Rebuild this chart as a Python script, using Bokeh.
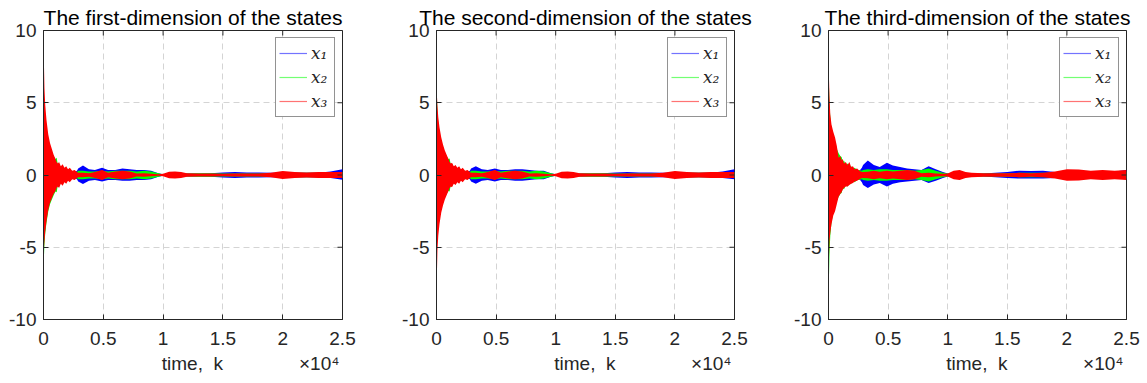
from bokeh.plotting import figure
from bokeh.layouts import row
from bokeh.models import (FixedTicker, LinearAxis, Legend, LegendItem, Range1d)
from bokeh.embed import file_html
from bokeh.resources import INLINE

titles = ["The first-dimension of the states",
          "The second-dimension of the states",
          "The third-dimension of the states"]
series_names = ["x\u2081", "x\u2082", "x\u2083"]
series_colors = ["#0000ff", "#00ff00", "#ff0000"]
x_ticks = [0, 5000, 10000, 15000, 20000, 25000]
x_tick_labels = ["0", "0.5", "1", "1.5", "2", "2.5"]
y_ticks = [-10, -5, 0, 5, 10]
y_tick_labels = ["-10", "-5", "0", "5", "10"]
x_label = "time,\u00a0 k"
x_exponent = "\u00d710\u2074"

# time samples at which the envelope of the oscillating states was read
k = [0, 30, 80, 150, 250, 400, 550, 700, 850, 1000, 1100, 1200, 1300, 1450, 1600,
     1750, 1900, 2050, 2200, 2400, 2600, 2800, 2900, 3300, 3800, 4300, 4900, 5400,
     6000, 6600, 7200, 7800, 8400, 9000, 9600, 10000, 10500, 11000, 11500, 12000,
     13000, 14000, 15000, 16000, 17000, 18000, 19000, 20000, 21000, 22000, 23000,
     24000, 25000]

# ---- panel 1: upper / lower envelopes ----
p1_x1_hi = [5.0, 4.8, 4.2, 3.6, 3.0, 2.3, 1.8, 1.5, 1.2, 1.0, 0.9, 0.7, 0.7, 0.5, 0.5,
            0.4, 0.4, 0.3, 0.3, 0.2, 0.2, 0.3, 0.45, 0.65, 0.4, 0.35, 0.5, 0.35, 0.35, 0.45,
            0.4, 0.35, 0.35, 0.3, 0.12, 0.05, 0.1, 0.12, 0.1, 0.1, 0.1, 0.12, 0.18, 0.2, 0.18,
            0.18, 0.15, 0.15, 0.15, 0.15, 0.15, 0.25, 0.4]
p1_x1_lo = [-5.0, -4.8, -4.3, -3.7, -3.0, -2.3, -1.8, -1.5, -1.2, -1.0, -0.9, -0.7, -0.7, -0.5, -0.5,
            -0.4, -0.4, -0.3, -0.3, -0.2, -0.2, -0.3, -0.45, -0.62, -0.4, -0.35, -0.45, -0.35, -0.35, -0.4,
            -0.4, -0.35, -0.35, -0.3, -0.12, -0.05, -0.1, -0.12, -0.1, -0.1, -0.1, -0.12, -0.18, -0.2, -0.18,
            -0.18, -0.15, -0.15, -0.15, -0.15, -0.15, -0.2, -0.33]
p1_x2_hi = [7.4, 5.5, 4.5, 3.8, 3.0, 2.3, 1.9, 1.6, 1.3, 1.1, 1.2, 0.7, 0.8, 0.5, 0.6,
            0.4, 0.5, 0.35, 0.4, 0.25, 0.3, 0.2, 0.3, 0.3, 0.25, 0.25, 0.3, 0.25, 0.3, 0.3,
            0.3, 0.25, 0.3, 0.25, 0.12, 0.05, 0.1, 0.1, 0.08, 0.1, 0.12, 0.12, 0.1, 0.1, 0.1,
            0.1, 0.12, 0.15, 0.15, 0.15, 0.15, 0.15, 0.2]
p1_x2_lo = [-6.3, -5.8, -4.8, -4.0, -3.3, -2.5, -2.0, -1.7, -1.4, -1.15, -1.2, -0.7, -0.8, -0.5, -0.6,
            -0.4, -0.5, -0.35, -0.4, -0.25, -0.3, -0.2, -0.3, -0.3, -0.25, -0.25, -0.3, -0.25, -0.3, -0.3,
            -0.3, -0.25, -0.3, -0.25, -0.12, -0.05, -0.1, -0.1, -0.08, -0.1, -0.12, -0.12, -0.1, -0.1, -0.1,
            -0.1, -0.12, -0.15, -0.15, -0.15, -0.15, -0.15, -0.2]
p1_x3_hi = [10.0, 8.0, 6.0, 4.8, 3.8, 2.8, 2.2, 1.8, 1.4, 1.1, 0.9, 0.8, 0.9, 0.6, 0.75,
            0.5, 0.6, 0.4, 0.5, 0.3, 0.35, 0.2, 0.15, 0.15, 0.12, 0.2, 0.35, 0.15, 0.25, 0.3,
            0.25, 0.1, 0.12, 0.08, 0.05, 0.08, 0.22, 0.25, 0.2, 0.12, 0.1, 0.1, 0.08, 0.1, 0.1,
            0.1, 0.15, 0.28, 0.2, 0.18, 0.2, 0.2, 0.2]
p1_x3_lo = [-5.5, -5.2, -4.6, -3.9, -3.2, -2.4, -1.9, -1.6, -1.3, -1.1, -0.9, -0.8, -0.9, -0.6, -0.75,
            -0.5, -0.6, -0.4, -0.5, -0.3, -0.35, -0.2, -0.15, -0.15, -0.12, -0.2, -0.35, -0.15, -0.25, -0.3,
            -0.25, -0.1, -0.12, -0.08, -0.05, -0.08, -0.22, -0.25, -0.2, -0.12, -0.1, -0.1, -0.08, -0.1, -0.1,
            -0.1, -0.15, -0.28, -0.2, -0.18, -0.2, -0.2, -0.2]

# ---- panel 2 ----
p2_x1_hi = [4.9, 4.6, 4.0, 3.4, 2.8, 2.2, 1.8, 1.5, 1.2, 1.0, 0.9, 0.7, 0.7, 0.5, 0.5,
            0.4, 0.4, 0.3, 0.3, 0.2, 0.2, 0.3, 0.45, 0.6, 0.4, 0.35, 0.45, 0.35, 0.35, 0.4,
            0.4, 0.35, 0.3, 0.3, 0.12, 0.05, 0.1, 0.12, 0.1, 0.1, 0.1, 0.12, 0.18, 0.2, 0.18,
            0.18, 0.15, 0.15, 0.15, 0.15, 0.15, 0.25, 0.4]
p2_x1_lo = [-4.5, -4.3, -3.9, -3.3, -2.8, -2.2, -1.8, -1.5, -1.2, -1.0, -0.9, -0.7, -0.7, -0.5, -0.5,
            -0.4, -0.4, -0.3, -0.3, -0.2, -0.2, -0.3, -0.45, -0.6, -0.4, -0.35, -0.45, -0.35, -0.35, -0.4,
            -0.4, -0.35, -0.3, -0.3, -0.12, -0.05, -0.1, -0.12, -0.1, -0.1, -0.1, -0.12, -0.18, -0.2, -0.18,
            -0.18, -0.15, -0.15, -0.15, -0.15, -0.15, -0.2, -0.3]
p2_x2_hi = [7.2, 5.5, 4.4, 3.6, 2.9, 2.2, 1.8, 1.5, 1.3, 1.1, 1.15, 0.7, 0.8, 0.5, 0.6,
            0.4, 0.5, 0.35, 0.4, 0.25, 0.3, 0.2, 0.3, 0.3, 0.25, 0.25, 0.3, 0.25, 0.3, 0.3,
            0.3, 0.25, 0.3, 0.25, 0.12, 0.05, 0.1, 0.1, 0.08, 0.1, 0.12, 0.12, 0.1, 0.1, 0.1,
            0.1, 0.12, 0.15, 0.15, 0.15, 0.15, 0.15, 0.2]
p2_x2_lo = [-5.8, -5.0, -4.2, -3.5, -2.9, -2.2, -1.8, -1.5, -1.3, -1.1, -1.15, -0.7, -0.8, -0.5, -0.6,
            -0.4, -0.5, -0.35, -0.4, -0.25, -0.3, -0.2, -0.3, -0.3, -0.25, -0.25, -0.3, -0.25, -0.3, -0.3,
            -0.3, -0.25, -0.3, -0.25, -0.12, -0.05, -0.1, -0.1, -0.08, -0.1, -0.12, -0.12, -0.1, -0.1, -0.1,
            -0.1, -0.12, -0.15, -0.15, -0.15, -0.15, -0.15, -0.2]
p2_x3_hi = [6.0, 5.6, 4.8, 4.0, 3.3, 2.6, 2.1, 1.7, 1.4, 1.1, 0.9, 0.8, 0.85, 0.6, 0.7,
            0.5, 0.6, 0.4, 0.5, 0.3, 0.35, 0.2, 0.15, 0.15, 0.12, 0.2, 0.35, 0.15, 0.25, 0.3,
            0.25, 0.1, 0.12, 0.08, 0.05, 0.08, 0.22, 0.25, 0.2, 0.12, 0.1, 0.1, 0.08, 0.1, 0.1,
            0.1, 0.15, 0.28, 0.2, 0.18, 0.2, 0.2, 0.2]
p2_x3_lo = [-9.4, -7.0, -5.2, -4.2, -3.4, -2.6, -2.1, -1.7, -1.4, -1.1, -0.9, -0.8, -0.85, -0.6, -0.7,
            -0.5, -0.6, -0.4, -0.5, -0.3, -0.35, -0.2, -0.15, -0.15, -0.12, -0.2, -0.35, -0.15, -0.25, -0.3,
            -0.25, -0.1, -0.12, -0.08, -0.05, -0.08, -0.22, -0.25, -0.2, -0.12, -0.1, -0.1, -0.08, -0.1, -0.1,
            -0.1, -0.15, -0.28, -0.2, -0.18, -0.2, -0.2, -0.2]

# ---- panel 3 ----
p3_x1_hi = [5.8, 5.5, 4.5, 3.7, 3.0, 2.3, 1.8, 1.5, 1.2, 1.0, 0.9, 0.8, 0.7, 0.6, 0.55,
            0.5, 0.45, 0.4, 0.35, 0.3, 0.3, 0.5, 0.7, 1.0, 0.7, 0.55, 0.85, 0.65, 0.55, 0.45,
            0.4, 0.35, 0.6, 0.4, 0.2, 0.1, 0.1, 0.1, 0.1, 0.1, 0.1, 0.15, 0.2, 0.3, 0.28,
            0.3, 0.2, 0.2, 0.2, 0.2, 0.2, 0.25, 0.35]
p3_x1_lo = [-4.5, -4.4, -4.0, -3.5, -3.0, -2.3, -1.8, -1.5, -1.2, -1.0, -0.9, -0.8, -0.7, -0.6, -0.55,
            -0.5, -0.45, -0.4, -0.35, -0.3, -0.3, -0.5, -0.7, -0.9, -0.65, -0.55, -0.8, -0.6, -0.5, -0.45,
            -0.4, -0.35, -0.55, -0.4, -0.2, -0.1, -0.1, -0.1, -0.1, -0.1, -0.1, -0.15, -0.2, -0.25, -0.25,
            -0.25, -0.2, -0.2, -0.2, -0.2, -0.2, -0.25, -0.3]
p3_x2_hi = [10.0, 6.5, 5.0, 4.0, 3.2, 2.6, 2.1, 1.8, 1.5, 1.3, 1.25, 0.9, 1.0, 0.7, 0.8,
            0.55, 0.6, 0.45, 0.5, 0.35, 0.35, 0.3, 0.35, 0.4, 0.35, 0.4, 0.4, 0.35, 0.35, 0.35,
            0.3, 0.35, 0.45, 0.3, 0.15, 0.1, 0.12, 0.12, 0.1, 0.1, 0.1, 0.1, 0.12, 0.15, 0.15,
            0.15, 0.15, 0.2, 0.2, 0.2, 0.2, 0.2, 0.25]
p3_x2_lo = [-10.0, -7.5, -5.5, -4.2, -3.3, -2.6, -2.1, -1.8, -1.5, -1.3, -1.25, -0.9, -1.0, -0.7, -0.8,
            -0.55, -0.6, -0.45, -0.5, -0.35, -0.35, -0.3, -0.35, -0.4, -0.35, -0.4, -0.4, -0.35, -0.35, -0.35,
            -0.3, -0.35, -0.45, -0.3, -0.15, -0.1, -0.12, -0.12, -0.1, -0.1, -0.1, -0.1, -0.12, -0.15, -0.15,
            -0.15, -0.15, -0.2, -0.2, -0.2, -0.2, -0.2, -0.25]
p3_x3_hi = [8.2, 7.0, 5.5, 4.2, 3.5, 3.0, 2.6, 2.0, 1.2, 1.3, 1.0, 1.1, 0.8, 0.9, 0.7,
            0.9, 0.55, 0.6, 0.4, 0.45, 0.3, 0.2, 0.2, 0.22, 0.3, 0.22, 0.3, 0.25, 0.3, 0.35,
            0.3, 0.12, 0.15, 0.1, 0.08, 0.1, 0.3, 0.35, 0.2, 0.15, 0.12, 0.12, 0.12, 0.15, 0.12,
            0.15, 0.25, 0.4, 0.38, 0.3, 0.35, 0.3, 0.35]
p3_x3_lo = [-8.1, -6.0, -4.6, -4.0, -3.4, -2.8, -2.5, -2.0, -1.5, -1.3, -1.2, -1.0, -0.9, -0.8, -0.8,
            -0.7, -0.6, -0.55, -0.45, -0.4, -0.3, -0.2, -0.2, -0.22, -0.3, -0.22, -0.3, -0.25, -0.3, -0.35,
            -0.3, -0.12, -0.15, -0.1, -0.08, -0.1, -0.3, -0.35, -0.2, -0.15, -0.12, -0.12, -0.12, -0.15, -0.12,
            -0.15, -0.25, -0.4, -0.38, -0.3, -0.35, -0.3, -0.35]

panels = [
    (titles[0], [(p1_x1_hi, p1_x1_lo), (p1_x2_hi, p1_x2_lo), (p1_x3_hi, p1_x3_lo)], 43, 299, 48),
    (titles[1], [(p2_x1_hi, p2_x1_lo), (p2_x2_hi, p2_x2_lo), (p2_x3_hi, p2_x3_lo)], 46, 298, 46),
    (titles[2], [(p3_x1_hi, p3_x1_lo), (p3_x2_hi, p3_x2_lo), (p3_x3_hi, p3_x3_lo)], 48, 298, 19),
]

FONT = "Liberation Sans"
TXT = "#262626"
FRAME_H = 289
TOP = 30
BOTTOM = 63
X0, X1 = 0, 25000
Y0, Y1 = -10, 10
TICK_PX = 5
# horizontal positions of the x-label texts (label row under the tick labels)
LABEL_ROW = {12450: x_label, 23050: x_exponent}


def make_panel(title, series, left, fw, right):
    p = figure(frame_width=fw, frame_height=FRAME_H,
               x_range=Range1d(X0, X1), y_range=Range1d(Y0, Y1),
               output_backend="svg", toolbar_location=None,
               min_border_left=left, min_border_right=right,
               min_border_top=TOP, min_border_bottom=BOTTOM)
    p.background_fill_color = "white"
    p.border_fill_color = "white"
    p.outline_line_color = TXT
    p.outline_line_width = 1
    p.outline_line_alpha = 1

    # title
    p.title.text = title
    p.title.align = "center"
    p.title.vertical_align = "top"
    p.title.text_font = FONT
    p.title.text_font_size = "21px"
    p.title.text_font_style = "normal"
    p.title.text_color = "black"
    p.title.standoff = 0

    # grid (drawn under the data)
    for g in (p.xgrid[0], p.ygrid[0]):
        g.grid_line_color = "#d4d4d4"
        g.grid_line_dash = "6 4"
        g.grid_line_width = 1

    for (hi, lo), c in zip(series, series_colors):
        p.varea(x=k, y1=lo, y2=hi, fill_color=c, fill_alpha=1.0)

    # axes
    xa = p.xaxis[0]
    xa.ticker = FixedTicker(ticks=x_ticks)
    xa.major_label_overrides = {t: s for t, s in zip(x_ticks, x_tick_labels)}
    ya = p.yaxis[0]
    ya.ticker = FixedTicker(ticks=y_ticks)
    ya.major_label_overrides = {t: s for t, s in zip(y_ticks, y_tick_labels)}
    for ax in (xa, ya):
        ax.major_tick_in = TICK_PX
        ax.major_tick_out = 0
        ax.minor_tick_line_color = None
        ax.axis_line_color = TXT
        ax.major_tick_line_color = TXT
        ax.major_label_text_font = FONT
        ax.major_label_text_font_size = "19px"
        ax.major_label_text_color = TXT
    xa.major_label_standoff = 12
    ya.major_label_standoff = 7

    # second row under the tick labels: axis label and the x10^4 multiplier
    la = LinearAxis(ticker=FixedTicker(ticks=list(LABEL_ROW.keys())),
                    major_label_overrides=dict(LABEL_ROW),
                    major_tick_in=0, major_tick_out=0, major_tick_line_color=None,
                    minor_tick_line_color=None, axis_line_color=None,
                    major_label_standoff=5,
                    major_label_text_font=FONT, major_label_text_font_size="19px",
                    major_label_text_color=TXT)
    p.add_layout(la, "below")

    # tick marks on the top and right edges of the box
    ty = Y1 - TICK_PX * (Y1 - Y0) / FRAME_H
    p.segment(x0=x_ticks, y0=[Y1] * len(x_ticks), x1=x_ticks, y1=[ty] * len(x_ticks),
              line_color=TXT, line_width=1)
    tx = X1 - TICK_PX * (X1 - X0) / fw
    p.segment(x0=[X1] * len(y_ticks), y0=y_ticks, x1=[tx] * len(y_ticks), y1=y_ticks,
              line_color=TXT, line_width=1)

    # legend (single-point lines act as legend keys)
    items = []
    for name, c, (hi, lo) in zip(series_names, series_colors, series):
        r = p.line(x=k[:1], y=hi[:1], line_color=c, line_alpha=0.55, line_width=1.2)
        items.append(LegendItem(label=name, renderers=[r]))
    leg = Legend(items=items, location="top_right")
    leg.label_text_font = "DejaVu Serif"
    leg.label_text_font_style = "italic"
    leg.label_text_font_size = "17px"
    leg.label_text_color = TXT
    leg.glyph_width = 28
    leg.glyph_height = 24
    leg.label_height = 24
    leg.label_standoff = 4
    leg.spacing = 0
    leg.padding = 3
    leg.margin = 7
    leg.border_line_color = TXT
    leg.border_line_width = 1
    leg.background_fill_alpha = 1
    p.add_layout(leg)
    return p


figs = [make_panel(*spec) for spec in panels]
layout = row(*figs)
open("out.html", "w").write(file_html(layout, INLINE))
